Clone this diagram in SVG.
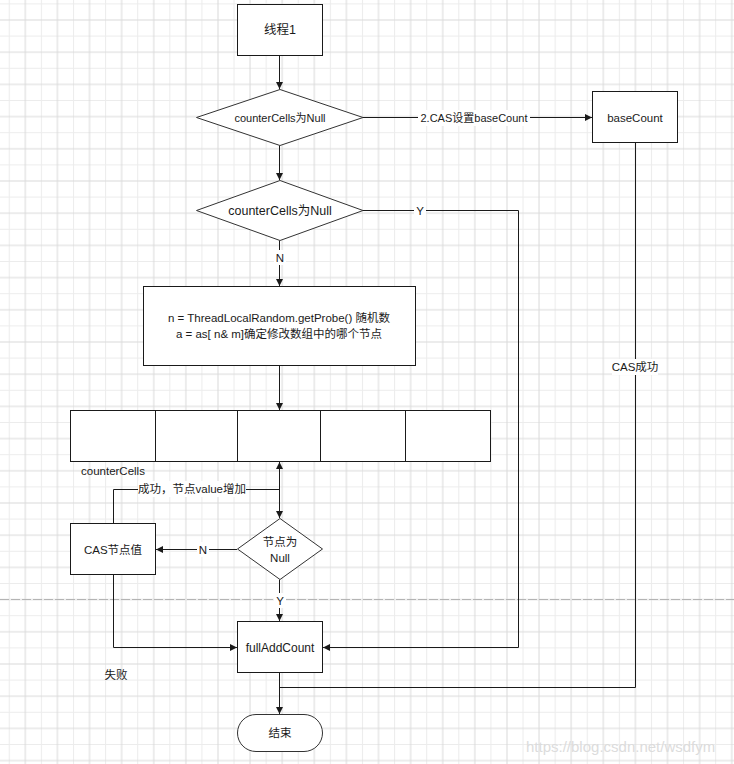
<svg xmlns="http://www.w3.org/2000/svg" width="734" height="764" viewBox="0 0 734 764">
<defs>
<pattern id="grid" patternUnits="userSpaceOnUse" x="8.75" y="3.4" width="32.11" height="32.2">
<rect x="0" y="0" width="32.11" height="32.2" fill="#ffffff"/>
<path d="M0.5,0 V32.2 M0,0.5 H32.11" stroke="#ececec" stroke-width="1" fill="none"/>
<path d="M16.55,0 V32.2 M0,16.6 H32.11" stroke="#dadada" stroke-width="1" fill="none"/>
</pattern>
<marker id="arr" markerUnits="userSpaceOnUse" markerWidth="8" markerHeight="8" refX="7" refY="3.5" orient="auto">
<path d="M0,0 L7,3.5 L0,7 z" fill="#1a1a1a"/>
</marker>
<style>
.n{fill:#ffffff;stroke:#1a1a1a;stroke-width:1}
.d{fill:#ffffff;stroke:#333333;stroke-width:1}
.t{font-family:"Liberation Sans","Noto Sans CJK SC",sans-serif;font-size:11.5px;fill:#1a1a1a;text-anchor:middle}
.c{fill:none;stroke:#1a1a1a;stroke-width:1}
.bg{fill:#ffffff}
</style>
</defs>
<rect x="0" y="0" width="734" height="764" fill="url(#grid)"/>
<line x1="0" y1="599.5" x2="734" y2="599.5" stroke="#b4b4b4" stroke-width="1" stroke-dasharray="9 2"/>

<g id="connectors">
<path class="c" d="M279.5,55.5 V89" marker-end="url(#arr)"/>
<path class="c" d="M363,117.5 H592" marker-end="url(#arr)"/>
<path class="c" d="M279.5,145.5 V180" marker-end="url(#arr)"/>
<path class="c" d="M363,210.5 H518.5 V647.5 H323" marker-end="url(#arr)"/>
<path class="c" d="M279.5,240.5 V286" marker-end="url(#arr)"/>
<path class="c" d="M279.5,365.5 V410" marker-end="url(#arr)"/>
<path class="c" d="M279.5,461.5 V518" marker-end="url(#arr)"/>
<path class="c" d="M113.5,523 V489.5 H279.5 V462" marker-end="url(#arr)"/>
<path class="c" d="M237,549.5 H156" marker-end="url(#arr)"/>
<path class="c" d="M279.5,579.5 V621" marker-end="url(#arr)"/>
<path class="c" d="M113.5,574.5 V647.5 H237" marker-end="url(#arr)"/>
<path class="c" d="M279.5,672.5 V714" marker-end="url(#arr)"/>
<path class="c" d="M635.5,142.5 V687.5 H279.5"/>
<rect class="bg" x="418" y="110" width="112" height="16"/>
<text class="t" x="474" y="121.5" style="font-size:11px">2.CAS设置baseCount</text>
<rect class="bg" x="414" y="203" width="12" height="15"/>
<text class="t" x="420" y="214.5">Y</text>
<rect class="bg" x="274" y="250" width="12" height="15"/>
<text class="t" x="280" y="261.5">N</text>
<rect class="bg" x="612" y="359" width="46" height="16"/>
<text class="t" x="635" y="371">CAS成功</text>
<rect class="bg" x="138" y="481" width="108" height="16"/>
<text class="t" x="192" y="493">成功，节点value增加</text>
<rect class="bg" x="197" y="542" width="12" height="15"/>
<text class="t" x="203" y="553.5">N</text>
<rect class="bg" x="274" y="593" width="12" height="15"/>
<text class="t" x="280" y="604.5">Y</text>
<text class="t" x="116" y="679">失败</text>
</g>

<g id="thread1">
<rect class="n" x="237.5" y="4.5" width="85" height="51"/>
<text class="t" x="280" y="34" style="font-size:12.5px">线程1</text>
</g>
<g id="check1">
<polygon class="d" points="196.5,117.5 280,89.5 363,117.5 280,145.5"/>
<text class="t" x="280" y="121.5" style="font-size:11px">counterCells为Null</text>
</g>
<g id="basecount">
<rect class="n" x="592.5" y="91.5" width="85" height="51"/>
<text class="t" x="635" y="122">baseCount</text>
</g>
<g id="check2">
<polygon class="d" points="196.5,210.5 280,180.5 363,210.5 280,240.5"/>
<text class="t" x="280" y="215" style="font-size:12.5px">counterCells为Null</text>
</g>
<g id="probe">
<rect class="n" x="143.5" y="286.5" width="272" height="79"/>
<text class="t" x="279" y="322">n = ThreadLocalRandom.getProbe() 随机数</text>
<text class="t" x="279" y="338">a = as[ n&amp; m]确定修改数组中的哪个节点</text>
</g>
<g id="countercells">
<rect class="n" x="70.5" y="410.5" width="420" height="51"/>
<path class="c" d="M155.5,410.5 V461.5 M237.5,410.5 V461.5 M320.5,410.5 V461.5 M405.5,410.5 V461.5"/>
<text class="t" x="81" y="475" style="text-anchor:start">counterCells</text>
</g>
<g id="check3">
<polygon class="d" points="237.5,549 280,518.5 322.5,549 280,579.5"/>
<text class="t" x="280" y="546">节点为</text>
<text class="t" x="280" y="562">Null</text>
</g>
<g id="casnode">
<rect class="n" x="70.5" y="523.5" width="85" height="51"/>
<text class="t" x="113" y="553.5">CAS节点值</text>
</g>
<g id="fulladdcount">
<rect class="n" x="237.5" y="621.5" width="85" height="51"/>
<text class="t" x="280" y="652" style="font-size:12px">fullAddCount</text>
</g>
<g id="end">
<rect class="d" x="237.5" y="714.5" width="85" height="37" rx="18.5" ry="18.5"/>
<text class="t" x="280" y="737">结束</text>
</g>
<text x="526" y="752" style="font-family:'Liberation Sans',Arial,sans-serif;font-size:15px;fill:#dcdcdc">https://blog.csdn.net/wsdfym</text>
</svg>
